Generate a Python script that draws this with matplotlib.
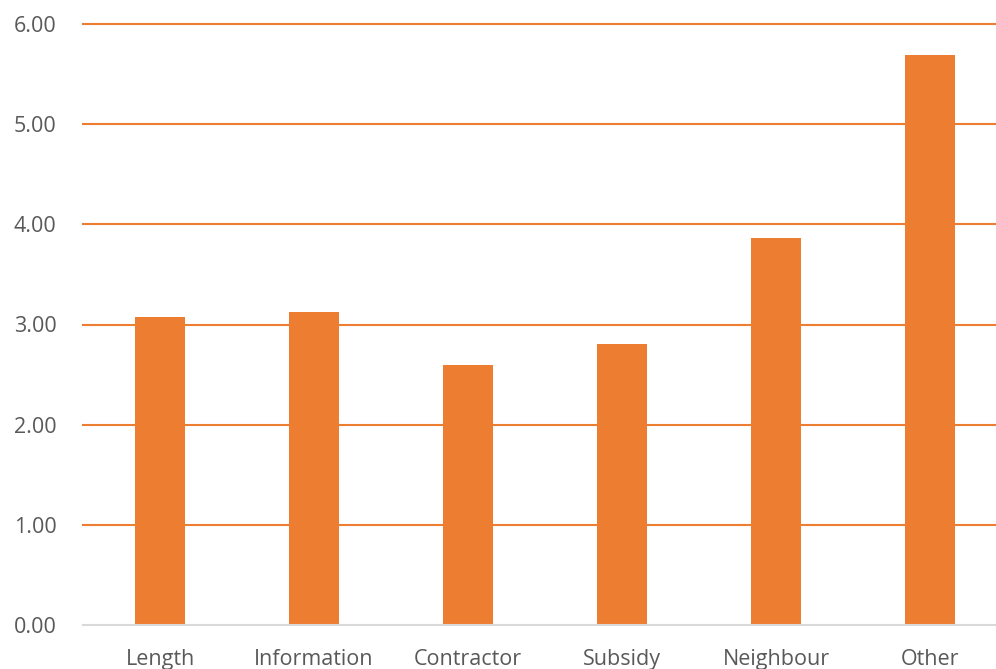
import matplotlib.pyplot as plt
import numpy as np

categorias = ["Length", "Information", "Contractor", "Subsidy", "Neighbour", "Other"]
valores = [3.07, 3.12, 2.60, 2.81, 3.86, 5.69]
ticks_y = [0, 1, 2, 3, 4, 5, 6]

laranja = "#ED7D31"
cinza_texto = "#595959"

plt.rcParams['font.family'] = ['Open Sans', 'DejaVu Sans']

fig = plt.figure(figsize=(9.96, 6.69), dpi=100)
largura_px = 154.0 * 6
ax = fig.add_axes([83 / 996, 44 / 669, largura_px / 996, (625 - 24) / 669])

x = np.arange(len(categorias))
ax.bar(x, valores, width=0.32, color=laranja, zorder=3)

ax.set_xlim(-0.5, len(categorias) - 0.5)
ax.set_ylim(0, 6)
ax.set_yticks(ticks_y)
ax.set_yticklabels([f"{v:.2f}" for v in ticks_y])
ax.set_xticks(x)
ax.set_xticklabels(categorias)

# linhas de grade horizontais na mesma cor das barras
for v in ticks_y[1:]:
    ax.axhline(v, color=laranja, linewidth=1.5, zorder=1, clip_on=False)

for lado in ["top", "right", "left"]:
    ax.spines[lado].set_visible(False)
ax.spines["bottom"].set_color("#d9d9d9")
ax.spines["bottom"].set_linewidth(1.5)
ax.spines["bottom"].set_zorder(4)

ax.tick_params(axis="y", length=0, pad=19, labelsize=15.5, labelcolor=cinza_texto)
ax.tick_params(axis="x", length=0, pad=17, labelsize=15.5, labelcolor=cinza_texto)

fig.savefig("out.png", dpi=100)
